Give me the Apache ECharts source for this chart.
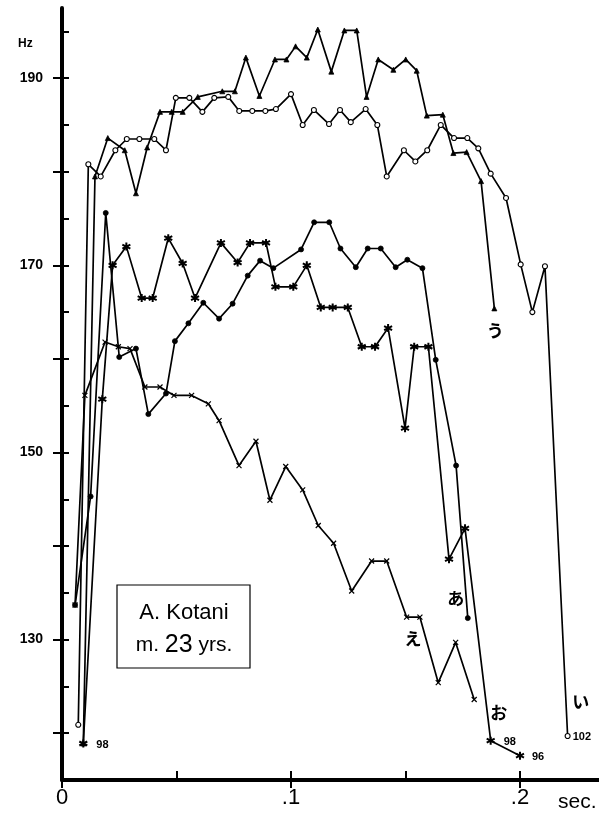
<!DOCTYPE html>
<html><head><meta charset="utf-8">
<script src="https://cdn.jsdelivr.net/npm/echarts@6/dist/echarts.min.js"></script>
<style>html,body{margin:0;padding:0;background:#fff}#c{width:599px;height:816px}</style>
</head><body><div id="c"></div>
<script>
// time (sec) / F0 (Hz) pairs
const vowelA = [[0.0057,133.7],[0.0125,145.3],[0.0191,175.6],[0.0250,160.2],[0.0323,161.1],[0.0377,154.1],[0.0454,156.3],[0.0493,161.9],[0.0552,163.8],[0.0617,166.0],[0.0686,164.3],[0.0745,165.9],[0.0811,168.9],[0.0865,170.5],[0.0923,169.7],[0.1044,171.7],[0.1101,174.6],[0.1167,174.6],[0.1216,171.8],[0.1283,169.8],[0.1335,171.8],[0.1392,171.8],[0.1457,169.8],[0.1508,170.6],[0.1574,169.7],[0.1632,159.9],[0.1721,148.6],[0.1772,132.3]];
const vowelI = [[0.0071,120.9],[0.0115,180.8],[0.0169,179.5],[0.0233,182.3],[0.0283,183.5],[0.0338,183.5],[0.0403,183.5],[0.0454,182.3],[0.0497,187.9],[0.0556,187.9],[0.0613,186.4],[0.0665,187.9],[0.0726,188.0],[0.0774,186.5],[0.0831,186.5],[0.0888,186.5],[0.0934,186.7],[0.1000,188.3],[0.1051,185.0],[0.1100,186.6],[0.1166,185.1],[0.1214,186.6],[0.1261,185.3],[0.1326,186.7],[0.1377,185.0],[0.1418,179.5],[0.1493,182.3],[0.1543,181.1],[0.1595,182.3],[0.1654,185.0],[0.1712,183.6],[0.1770,183.6],[0.1818,182.5],[0.1872,179.8],[0.1939,177.2],[0.2003,170.1],[0.2054,165.0],[0.2109,169.9],[0.2208,119.7]];
const vowelU = [[0.0093,118.9],[0.0144,179.5],[0.0200,183.6],[0.0274,182.3],[0.0323,177.7],[0.0372,182.6],[0.0428,186.4],[0.0479,186.4],[0.0527,186.4],[0.0593,188.0],[0.0700,188.6],[0.0755,188.6],[0.0803,192.2],[0.0862,188.1],[0.0930,192.0],[0.0980,192.0],[0.1020,193.4],[0.1069,192.2],[0.1117,195.2],[0.1176,190.7],[0.1233,195.1],[0.1287,195.1],[0.1330,188.0],[0.1381,192.0],[0.1447,190.9],[0.1501,192.0],[0.1549,190.8],[0.1593,186.0],[0.1663,186.1],[0.1709,182.0],[0.1767,182.1],[0.1830,179.0],[0.1888,165.4]];
const vowelE = [[0.0057,133.7],[0.0100,156.1],[0.0188,161.8],[0.0246,161.3],[0.0297,161.1],[0.0362,157.0],[0.0428,157.0],[0.0489,156.1],[0.0566,156.1],[0.0639,155.2],[0.0686,153.4],[0.0773,148.6],[0.0847,151.2],[0.0908,144.9],[0.0977,148.5],[0.1051,146.0],[0.1119,142.2],[0.1186,140.3],[0.1265,135.2],[0.1352,138.4],[0.1418,138.4],[0.1505,132.4],[0.1563,132.4],[0.1643,125.4],[0.1719,129.7],[0.1800,123.6]];
const vowelO = [[0.0093,118.9],[0.0176,155.7],[0.0221,170.0],[0.0281,172.0],[0.0348,166.5],[0.0396,166.5],[0.0464,172.9],[0.0527,170.2],[0.0581,166.5],[0.0694,172.4],[0.0767,170.3],[0.0821,172.4],[0.0891,172.4],[0.0932,167.7],[0.1010,167.7],[0.1069,170.0],[0.1130,165.5],[0.1182,165.5],[0.1248,165.5],[0.1309,161.3],[0.1367,161.3],[0.1424,163.3],[0.1498,152.6],[0.1538,161.3],[0.1600,161.3],[0.1690,138.6],[0.1760,141.9],[0.1872,119.2],[0.2000,117.6]];

const vowelNames = ['あ','い','う','え','お'];
// off-scale values written next to points
const offScaleVowel = ['お','お','お','い'];
const offScaleIndex = [0, 27, 28, 38];
const offScaleText = ['98','98','96','102'];
// which point each vowel name is written beside
const vowelLabelIndex = [27, 38, 32, 22, 27];

const yMinorTicks = [120,125,130,135,140,145,150,155,160,165,170,175,180,185,190,195];
const yMajorTicks = [120,130,140,150,160,170,180,190];
const yTickLabels = [130,150,170,190];
const xMinorTicks = [0,0.05,0.1,0.15,0.2];
const xMajorTicks = [0,0.1,0.2];
const xTickLabels = [0,0.1,0.2];
const speakerName = 'A. Kotani';
const speakerInfo = ['m.','23','yrs.'];

const dataSets = [vowelA, vowelI, vowelU, vowelE, vowelO];

const symbolDefs = [
  {symbol:'circle', size:5, fill:'#000', bw:0.8},
  {symbol:'circle', size:5, fill:'#fff', bw:1.1},
  {symbol:'triangle', size:5, fill:'#000', bw:0.8},
  {symbol:'path://M0 0L10 10M10 0L0 10', size:5, fill:'#000', bw:1.2},
  {symbol:'path://M5 0L5 10M0.67 2.5L9.33 7.5M0.67 7.5L9.33 2.5', size:8, fill:'#000', bw:2}
];
const vowelLabelOffset = [[-12,-20],[13,-34],[1,22],[-7,21],[8,-28]];
const offScaleOffset = {'98':[6,1], '96':[5,1], '102':[0,1]};

const kanaFont = 'Noto Sans CJK JP';
const latinFont = 'Liberation Sans';

const series = dataSets.map((ds, si) => {
  const name = vowelNames[si];
  const data = ds.map((p, i) => {
    const k = offScaleVowel.findIndex((v, j) => v === name && offScaleIndex[j] === i);
    if (k >= 0) {
      return {value: p, label: {show: true, formatter: offScaleText[k], position: 'right',
        distance: 2, offset: offScaleOffset[offScaleText[k]], color:'#000',
        fontFamily: latinFont, fontWeight: 'bold', fontSize: 11}};
    }
    return p;
  });
  const sd = symbolDefs[si];
  return {
    type: 'line', name: name, data: data,
    xAxisIndex: 0, yAxisIndex: 0,
    symbol: sd.symbol, symbolSize: sd.size, showAllSymbol: true,
    lineStyle: {color:'#000', width: 1.7},
    itemStyle: {color: sd.fill, borderColor:'#000', borderWidth: sd.bw},
    z: si === 1 ? 4 : 3,
    markPoint: {
      symbol: 'circle', symbolSize: 0,
      data: [{coord: ds[vowelLabelIndex[si]], value: name}],
      label: {show: true, position: 'inside', formatter: name, offset: vowelLabelOffset[si],
        color:'#000', fontFamily: kanaFont, fontWeight: 'bold', fontSize: 17}
    }
  };
});

const chart = echarts.init(document.getElementById('c'), null, {renderer:'canvas'});
chart.setOption({
  animation: false,
  backgroundColor: '#fff',
  grid: {left: 62, right: 0, top: 8, bottom: 36, containLabel: false},
  xAxis: [
    {type:'value', min:0, max:0.2345, position:'bottom',
     axisLine:{show:true, lineStyle:{color:'#000', width:4}},
     axisTick:{show:true, inside:true, length:9, customValues:xMinorTicks, lineStyle:{color:'#000', width:2}},
     axisLabel:{show:false}, splitLine:{show:false}},
    {type:'value', min:0, max:0.2345, position:'bottom',
     axisLine:{show:false},
     axisTick:{show:true, inside:false, length:8, customValues:xMajorTicks, lineStyle:{color:'#000', width:2}},
     axisLabel:{show:true, customValues:xTickLabels, margin:7, color:'#000', fontFamily:latinFont, fontSize:22,
       formatter: v => v === 0 ? '0' : '.' + Math.round(v*10)},
     splitLine:{show:false}}
  ],
  yAxis: [
    {type:'value', min:115, max:197.5, position:'left', offset:12,
     axisLine:{show:true, lineStyle:{color:'#000', width:4}},
     axisTick:{show:true, inside:true, length:7, customValues:yMinorTicks, lineStyle:{color:'#000', width:2}},
     axisLabel:{show:false}, splitLine:{show:false}},
    {type:'value', min:115, max:197.5, position:'left', offset:12,
     axisLine:{show:false},
     axisTick:{show:true, inside:false, length:9, customValues:yMajorTicks, lineStyle:{color:'#000', width:2}},
     axisLabel:{show:true, customValues:yTickLabels, margin:7, color:'#000', fontFamily:latinFont, fontWeight:'bold', fontSize:14},
     splitLine:{show:false}}
  ],
  graphic: [
    {type:'text', left:18, top:38, style:{text:'Hz', fill:'#000', font:'bold 12px "Liberation Sans"'}},
    {type:'text', left:558, top:792, style:{text:'sec.', fill:'#000', font:'21px "Liberation Sans"'}},
    {type:'rect', shape:{x:117, y:585, width:133, height:83}, style:{fill:'#fff', stroke:'#000', lineWidth:1.2}, z:10},
    {type:'text', x:184, y:613, z:11, style:{text:speakerName, fill:'#000', font:'22px "Liberation Sans"', align:'center', verticalAlign:'middle'}},
    {type:'text', x:184, y:645, z:11, style:{
      text:'{a|' + speakerInfo[0] + ' }{b|' + speakerInfo[1] + '}{a| ' + speakerInfo[2] + '}',
      align:'center', verticalAlign:'middle',
      rich:{a:{fill:'#000', fontFamily:latinFont, fontSize:21}, b:{fill:'#000', fontFamily:latinFont, fontSize:25}}}}
  ],
  series: series
});
</script>
</body></html>
